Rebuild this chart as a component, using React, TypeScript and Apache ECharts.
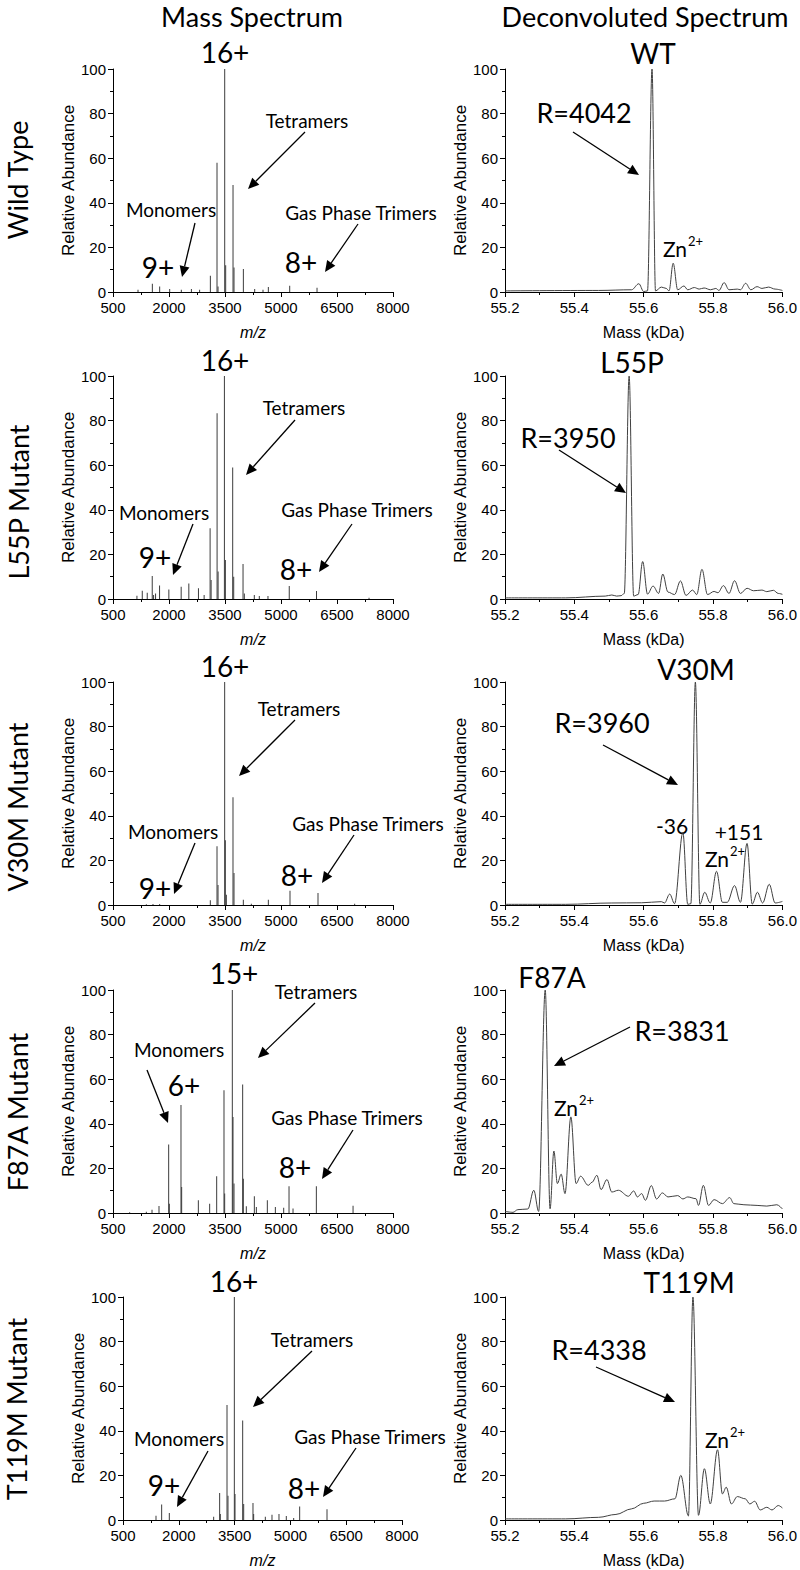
import React, { useEffect, useRef } from "react";
import * as echarts from "echarts";

// ---------------- DATA ----------------
const rowLabels = ["Wild Type", "L55P Mutant", "V30M Mutant", "F87A Mutant", "T119M Mutant"];
const variantLabels = ["WT", "L55P", "V30M", "F87A", "T119M"];
const resolutionLabels = ["R=4042", "R=3950", "R=3960", "R=3831", "R=4338"];
const tetramerCharge = ["16+", "16+", "16+", "15+", "16+"];
const monomerCharge = ["9+", "9+", "9+", "6+", "9+"];
const trimerCharge = ["8+", "8+", "8+", "8+", "8+"];
const mzTicks = [500, 2000, 3500, 5000, 6500, 8000];
const mzMinorTicks = [1250, 2750, 4250, 5750, 7250];
const massTicks = [55.2, 55.4, 55.6, 55.8, 56.0];
const massMinorTicks = [55.3, 55.5, 55.7, 55.9];

// Mass spectra: [m/z, relative abundance]
const wtMs = [[1170,1],[1554,3.7],[1750,2.5],[2018,1.3],[2330,1],[2600,1.3],[2820,1],[3108,7.3],[3286,58],[3313,2.5],[3492,100],[3518,12],[3715,48],[3741,11],[3992,10.3],[4295,1.3],[4518,1],[4661,2.2],[5233,2.8],[5965,1.9]];
const l55pMs = [[1141,1.5],[1284,3.7],[1417,2.8],[1551,10.3],[1587,1.8],[1640,2.5],[1747,6.1],[1996,4.3],[2326,5.5],[2531,7],[2789,4.8],[2941,1.8],[3101,31.7],[3128,8.5],[3288,83.3],[3315,12.3],[3484,100],[3510,17.5],[3706,59],[3733,10],[3983,15.7],[4018,2.5],[4285,1.8],[4419,1.3],[4651,1.3],[5221,5.8],[5951,3.6],[7358,0.6]];
const v30mMs = [[1393,0.3],[1571,0.4],[1750,0.4],[3107,2.1],[3286,26.3],[3313,9],[3491,100],[3509,29],[3536,4.6],[3714,48.3],[3741,14.3],[3991,2.4],[4205,0.6],[4661,2.4],[5241,6.4],[5991,5.4],[6973,0.6]];
const f87aMs = [[946,0.3],[1393,0.6],[1545,1.5],[1732,3.1],[1991,30.7],[2009,4.2],[2321,48.4],[2339,11.7],[2786,5.7],[3089,4.2],[3277,16.5],[3473,55.1],[3491,8.7],[3696,100],[3714,43.1],[3741,13.2],[3973,57.6],[3991,15.4],[4071,3],[4286,7.5],[4340,2.7],[4634,5.7],[4849,2.7],[5072,2.4],[5215,12],[5322,2],[5947,12],[6930,3.3]];
const t119mMs = [[1387,1.9],[1539,6.9],[1745,3.1],[2937,1.5],[3098,12.1],[3116,2.7],[3296,51.6],[3322,10.9],[3493,100],[3511,11.7],[3717,44.6],[3744,7.2],[3994,7.6],[4012,2.7],[4326,1.5],[4505,2.4],[4693,2.7],[4890,1.8],[5088,0.9],[5249,6.1],[5984,4.8]];

// Deconvoluted spectra: [mass kDa, relative abundance]
const wtDec = [[55.2,0.5],[55.47,0.7],[55.565,1],[55.586,3.7],[55.6,0.2],[55.611,0.5],[55.624,100],[55.634,0.5],[55.651,2.2],[55.665,1.6],[55.673,0.5],[55.685,12.9],[55.698,1],[55.716,2.7],[55.727,1],[55.746,2],[55.76,1.3],[55.774,1.8],[55.793,1],[55.808,1.6],[55.817,0.7],[55.832,4.2],[55.846,1],[55.87,1.3],[55.879,1],[55.894,3.9],[55.909,1],[55.927,2.4],[55.941,1.6],[55.96,2.2],[55.979,1.3],[56.0,0.7]];
const l55pDec = [[55.2,0.5],[55.375,0.5],[55.489,1.3],[55.508,1.8],[55.522,1.3],[55.535,1.5],[55.544,2.5],[55.558,100],[55.571,1.3],[55.584,2],[55.597,16.8],[55.611,2.2],[55.627,5.8],[55.643,2.5],[55.655,11.2],[55.67,3.1],[55.689,2],[55.706,8.1],[55.722,1.6],[55.741,4],[55.753,2],[55.768,13.3],[55.784,2],[55.803,3.4],[55.814,2.8],[55.83,6],[55.846,2.5],[55.862,8.2],[55.879,2.5],[55.898,4.8],[55.917,3.7],[55.941,4],[55.955,3.3],[55.974,3.9],[55.988,2.5],[56.0,2.1]];
const v30mDec = [[55.2,0.3],[55.375,0.3],[55.508,0.9],[55.594,1],[55.651,1.5],[55.66,0.9],[55.675,4.9],[55.689,0.6],[55.713,32.5],[55.727,0.3],[55.736,0.6],[55.749,100],[55.762,0.3],[55.776,5.7],[55.792,0.9],[55.81,15.1],[55.827,1.2],[55.841,1.2],[55.862,8.7],[55.879,1.2],[55.898,27.6],[55.913,0.4],[55.928,5.7],[55.943,0.9],[55.962,9.3],[55.979,0.9],[56.0,1.6]];
const f87aDec = [[55.2,0.7],[55.223,0.3],[55.237,1.5],[55.266,1.8],[55.283,10.2],[55.297,0.7],[55.316,100],[55.33,1.9],[55.341,27.8],[55.351,13.2],[55.362,17.4],[55.373,8.7],[55.39,43.1],[55.405,13.2],[55.418,16.5],[55.44,12.4],[55.451,13.8],[55.465,16.9],[55.477,10.5],[55.494,15],[55.508,9.4],[55.527,10.2],[55.556,7.5],[55.571,9.9],[55.582,7.2],[55.594,8.7],[55.605,5.7],[55.622,12.3],[55.637,6.3],[55.654,9],[55.67,7.2],[55.698,7.8],[55.713,6.3],[55.727,7.2],[55.751,6.4],[55.758,3.4],[55.772,12.4],[55.787,3.4],[55.803,6],[55.827,4.2],[55.848,6.9],[55.86,4.2],[55.889,3.7],[55.927,3.4],[55.955,3.1],[55.984,3.7],[56.0,1.8]];
const t119mDec = [[55.2,0.5],[55.375,0.5],[55.47,1.2],[55.52,2.5],[55.565,5],[55.6,7.5],[55.63,8.5],[55.66,8.5],[55.69,9.5],[55.707,20],[55.729,1.8],[55.742,100],[55.758,2.1],[55.775,23],[55.792,7.2],[55.813,31.5],[55.827,11.7],[55.838,14.7],[55.853,7.2],[55.87,10.5],[55.893,9.5],[55.906,7.2],[55.92,8.4],[55.936,4.5],[55.955,5.7],[55.97,4.5],[55.988,6.5],[56.0,5.4]];

const msSets = [wtMs, l55pMs, v30mMs, f87aMs, t119mMs];
const decSets = [wtDec, l55pDec, v30mDec, f87aDec, t119mDec];

// ---------------- LAYOUT ----------------
const GRID_TOPS = [69, 376, 682, 990, 1297];
const GRID_H = 223;
const LEFT_X = [113, 113, 113, 113, 123];
const LEFT_W = [280, 280, 280, 280, 279];
const RIGHT_X = 505;
const RIGHT_W = 281;

const ANNOT = [
  { tet: [307, 120], tetA: [305, 132, 248, 189], mon: [171, 209], monA: [195, 223, 182, 277], tri: [361, 212], triA: [358, 224, 325, 272],
    big: [225, 52], mc: [158, 267], tc: [301, 262], v: [653, 53], r: [584, 112], rA: [573, 132, 639, 175], zn: [663, 248] },
  { tet: [304, 407], tetA: [295, 420, 246, 475], mon: [164, 512], monA: [193, 524, 173, 575], tri: [357, 509], triA: [352, 524, 319, 572],
    big: [225, 360], mc: [155, 557], tc: [296, 569], v: [632, 362], r: [568, 437], rA: [559, 450, 626, 493], zn: null },
  { tet: [299, 708], tetA: [295, 720, 239, 776], mon: [173, 831], monA: [195, 843, 174, 894], tri: [368, 823], triA: [354, 835, 322, 883],
    big: [225, 666], mc: [155, 888], tc: [297, 875], v: [696, 669], r: [602, 722], rA: [603, 745, 678, 785], zn: [705, 858] },
  { tet: [316, 991], tetA: [315, 1003, 258, 1058], mon: [179, 1049], monA: [147, 1070, 168, 1123], tri: [347, 1117], triA: [353, 1130, 322, 1179],
    big: [234, 973], mc: [184, 1085], tc: [295, 1167], v: [552, 977], r: [682, 1030], rA: [630, 1027, 554, 1066], zn: [554, 1107] },
  { tet: [312, 1339], tetA: [312, 1351, 253, 1407], mon: [179, 1438], monA: [208, 1451, 177, 1507], tri: [370, 1436], triA: [356, 1448, 323, 1497],
    big: [234, 1281], mc: [164, 1485], tc: [304, 1488], v: [689, 1282], r: [599, 1349], rA: [596, 1367, 675, 1402], zn: [705, 1439] },
];
const ROW_LABEL_POS = [[17, 180], [18, 502], [17, 807], [17, 1112], [16, 1409]];

const ANN_FONT = "Lato, 'Open Sans', sans-serif";
const AX_FONT = "'Liberation Sans', Arial, sans-serif";

function txt(t: string, x: number, y: number, size: number, rot = 0, align = "center") {
  return {
    type: "text", x, y, rotation: rot, silent: true,
    style: { text: t, fontSize: size, fontFamily: ANN_FONT, fill: "#000", align, verticalAlign: "middle", textAlign: align, textVerticalAlign: "middle" },
  };
}

function arrow(a: number[]) {
  const [x1, y1, x2, y2] = a;
  const dx = x2 - x1, dy = y2 - y1;
  const len = Math.hypot(dx, dy);
  const ux = dx / len, uy = dy / len;
  const L = 11, W = 5;
  const bx = x2 - ux * L, by = y2 - uy * L;
  const nx = -uy, ny = ux;
  return [
    { type: "line", silent: true, shape: { x1, y1, x2: bx, y2: by }, style: { stroke: "#000", lineWidth: 1.3 } },
    { type: "polygon", silent: true, shape: { points: [[x2, y2], [bx + nx * W, by + ny * W], [bx - nx * W, by - ny * W]] }, style: { fill: "#000" } },
  ];
}

function zn(x: number, y: number) {
  return [txt("Zn", x, y, 21, 0, "left"), txt("2+", x + 25, y - 7, 13, 0, "left")];
}

function buildOption() {
  const grid: any[] = [];
  const xAxis: any[] = [];
  const yAxis: any[] = [];
  const series: any[] = [];
  const axisLine = { show: true, onZero: false, lineStyle: { color: "#000", width: 1 } };
  const tickStyle = { color: "#000", width: 1 };
  const labelStyle = { fontSize: 15, fontFamily: AX_FONT, color: "#000" };

  const mkY = (gi: number) => ({
    gridIndex: gi, type: "value", min: 0, max: 100, interval: 20,
    name: "Relative Abundance", nameLocation: "middle", nameGap: 35,
    nameTextStyle: { fontSize: 17, fontFamily: AX_FONT, color: "#000" },
    axisLine, axisTick: { show: true, length: 5, lineStyle: tickStyle },
    minorTick: { show: true, splitNumber: 2, length: 3, lineStyle: tickStyle },
    splitLine: { show: false }, minorSplitLine: { show: false },
    axisLabel: { ...labelStyle, margin: 7 },
  });

  for (let i = 0; i < 5; i++) grid.push({ left: LEFT_X[i], top: GRID_TOPS[i], width: LEFT_W[i], height: GRID_H });
  for (let i = 0; i < 5; i++) grid.push({ left: RIGHT_X, top: GRID_TOPS[i], width: RIGHT_W, height: GRID_H });

  for (let i = 0; i < 5; i++) {
    xAxis.push({
      gridIndex: i, type: "value", min: 500, max: 8000, position: "bottom",
      name: "m/z", nameLocation: "middle", nameGap: 32,
      nameTextStyle: { fontSize: 16, fontFamily: AX_FONT, fontStyle: "italic", color: "#000" },
      axisLine, splitLine: { show: false },
      axisTick: { show: true, length: 5, lineStyle: tickStyle, customValues: mzTicks },
      axisLabel: { ...labelStyle, margin: 8, customValues: mzTicks, formatter: (v: number) => String(Math.round(v)) },
    });
  }
  for (let i = 0; i < 5; i++) {
    xAxis.push({
      gridIndex: 5 + i, type: "value", min: 55.2, max: 56.0, position: "bottom",
      name: "Mass (kDa)", nameLocation: "middle", nameGap: 32,
      nameTextStyle: { fontSize: 16, fontFamily: AX_FONT, color: "#000" },
      axisLine, splitLine: { show: false },
      axisTick: { show: true, length: 5, lineStyle: tickStyle, customValues: massTicks },
      axisLabel: { ...labelStyle, margin: 8, customValues: massTicks, formatter: (v: number) => v.toFixed(1) },
    });
  }
  for (let i = 0; i < 5; i++) {
    xAxis.push({
      gridIndex: i, type: "value", min: 500, max: 8000, position: "bottom",
      axisLine: { show: false }, splitLine: { show: false }, axisLabel: { show: false },
      axisTick: { show: true, length: 3, lineStyle: tickStyle, customValues: mzMinorTicks },
    });
  }
  for (let i = 0; i < 5; i++) {
    xAxis.push({
      gridIndex: 5 + i, type: "value", min: 55.2, max: 56.0, position: "bottom",
      axisLine: { show: false }, splitLine: { show: false }, axisLabel: { show: false },
      axisTick: { show: true, length: 3, lineStyle: tickStyle, customValues: massMinorTicks },
    });
  }
  for (let i = 0; i < 10; i++) yAxis.push(mkY(i));

  for (let i = 0; i < 5; i++) {
    series.push({
      type: "bar", xAxisIndex: i, yAxisIndex: i, data: msSets[i], barWidth: 1,
      itemStyle: { color: "#3c3c3c" }, silent: true,
    });
    series.push({
      type: "line", xAxisIndex: 5 + i, yAxisIndex: 5 + i, data: decSets[i],
      showSymbol: false, symbol: "none", smooth: 0.35, smoothMonotone: "x",
      lineStyle: { color: "#404040", width: 1 }, silent: true,
    });
  }

  const g: any[] = [];
  g.push(txt("Mass Spectrum", 252, 16, 27));
  g.push(txt("Deconvoluted Spectrum", 645, 16, 27));
  for (let i = 0; i < 5; i++) {
    const a = ANNOT[i];
    const [lx, ly] = ROW_LABEL_POS[i];
    g.push(txt(rowLabels[i], lx, ly, 27, Math.PI / 2));
    g.push(txt(tetramerCharge[i], a.big[0], a.big[1], 28));
    g.push(txt("Tetramers", a.tet[0], a.tet[1], 19));
    g.push(txt("Monomers", a.mon[0], a.mon[1], 19));
    g.push(txt("Gas Phase Trimers", a.tri[0], a.tri[1], 19));
    g.push(txt(monomerCharge[i], a.mc[0], a.mc[1], 28));
    g.push(txt(trimerCharge[i], a.tc[0], a.tc[1], 28));
    g.push(txt(variantLabels[i], a.v[0], a.v[1], 28));
    g.push(txt(resolutionLabels[i], a.r[0], a.r[1], 27));
    g.push(...arrow(a.tetA), ...arrow(a.monA), ...arrow(a.triA), ...arrow(a.rA));
    if (a.zn) g.push(...zn(a.zn[0], a.zn[1]));
  }
  g.push(txt("-36", 672, 825, 21));
  g.push(txt("+151", 739, 831, 21));

  return {
    animation: false,
    backgroundColor: "#fff",
    grid, xAxis, yAxis, series,
    graphic: { elements: g },
  };
}

export default function App() {
  const ref = useRef<HTMLDivElement>(null);
  useEffect(() => {
    document.body.style.margin = "0";
    if (!ref.current) return;
    const chart = echarts.init(ref.current, null, { renderer: "svg" });
    chart.setOption(buildOption() as any);
    return () => chart.dispose();
  }, []);
  return <div ref={ref} style={{ width: 800, height: 1570 }} />;
}
